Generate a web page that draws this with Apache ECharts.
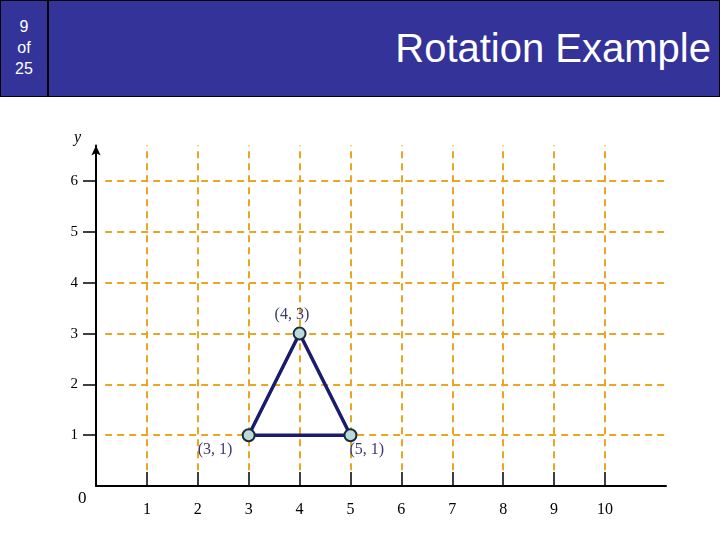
<!DOCTYPE html>
<html>
<head>
<meta charset="utf-8">
<script src="https://cdn.jsdelivr.net/npm/echarts@6/dist/echarts.min.js"></script>
<style>
  body { margin: 0; background: #fff; }
  #header { position: absolute; left: 0; top: 0; width: 718px; height: 95px; background: #333399; border: 1px solid #000; }
  #page { position: absolute; left: 0; top: 0; width: 48px; height: 95px; border-right: 2px solid #000; color: #fff;
          font: 16px "Liberation Sans", Arial, sans-serif; text-align: center; line-height: 21px; padding-top: 15px; box-sizing: border-box; }
  #title { position: absolute; right: 8px; top: 25px; color: #fff; font: 40px "Liberation Sans", Arial, sans-serif; }
  #chart { position: absolute; left: 0; top: 0; width: 720px; height: 540px; }
</style>
</head>
<body>
<div id="chart"></div>
<div id="header"><div id="page">9<br>of<br>25</div><div id="title">Rotation Example</div></div>
<script>
const xTicks = [1, 2, 3, 4, 5, 6, 7, 8, 9, 10];
const yTicks = [1, 2, 3, 4, 5, 6];
const trianglePoints = [[3, 1], [4, 3], [5, 1]];
const pointLabels = ['(3, 1)', '(4, 3)', '(5, 1)'];
const labelPositions = [[-44, 14], [-18, -20], [6, 14]];

const chart = echarts.init(document.getElementById('chart'));
const serif = '"Liberation Serif", "Times New Roman", serif';
const gridStyle = { color: '#E8A623', type: [7, 5], width: 2 };

const gridLines = [];
xTicks.forEach(v => gridLines.push([{ coord: [v, 0.31] }, { coord: [v, 6.7] }]));
yTicks.forEach(v => gridLines.push([{ coord: [0.18, v] }, { coord: [11.2, v] }]));

const closed = trianglePoints.concat([trianglePoints[0]]);

chart.setOption({
  animation: false,
  grid: { left: 96, right: 54, top: 145.6, bottom: 54 },
  xAxis: {
    type: 'value', min: 0, max: 11.2, interval: 1,
    axisLine: { onZero: false, lineStyle: { color: '#000', width: 2 } },
    axisTick: { inside: true, length: 14, customValues: xTicks, lineStyle: { color: '#000', width: 1.5 } },
    axisLabel: { margin: 16, color: '#000', fontFamily: serif, fontSize: 16, customValues: xTicks },
    splitLine: { show: false }
  },
  yAxis: {
    type: 'value', min: 0, max: 6.7, interval: 1,
    axisLine: { onZero: false, symbol: ['none', 'arrow'], symbolSize: [7, 10], lineStyle: { color: '#000', width: 2 } },
    axisTick: { length: 13, customValues: yTicks, lineStyle: { color: '#000', width: 1.5 } },
    axisLabel: { margin: 18, color: '#000', fontFamily: serif, fontSize: 15, customValues: yTicks },
    splitLine: { show: false }
  },
  graphic: [
    { type: 'text', left: 74, top: 130, style: { text: 'y', font: 'italic 16px ' + serif, fill: '#000' } },
    { type: 'text', left: 78, top: 490, style: { text: '0', font: '17px ' + serif, fill: '#000' } }
  ],
  series: [
    {
      type: 'line', data: [], silent: true,
      markLine: { symbol: 'none', silent: true, label: { show: false }, lineStyle: gridStyle, data: gridLines }
    },
    {
      type: 'line', z: 5,
      data: closed.map((p, i) => ({
        value: p,
        symbolSize: i < trianglePoints.length ? 12 : 0,
        label: i < trianglePoints.length
          ? { show: true, formatter: pointLabels[i], position: labelPositions[i], color: '#3a3a70', fontFamily: serif, fontSize: 16 }
          : { show: false }
      })),
      symbol: 'circle',
      lineStyle: { color: '#1a1a6e', width: 3.5 },
      itemStyle: { color: '#bcdada', borderColor: '#1a2a3a', borderWidth: 2 }
    }
  ]
});
</script>
</body>
</html>
